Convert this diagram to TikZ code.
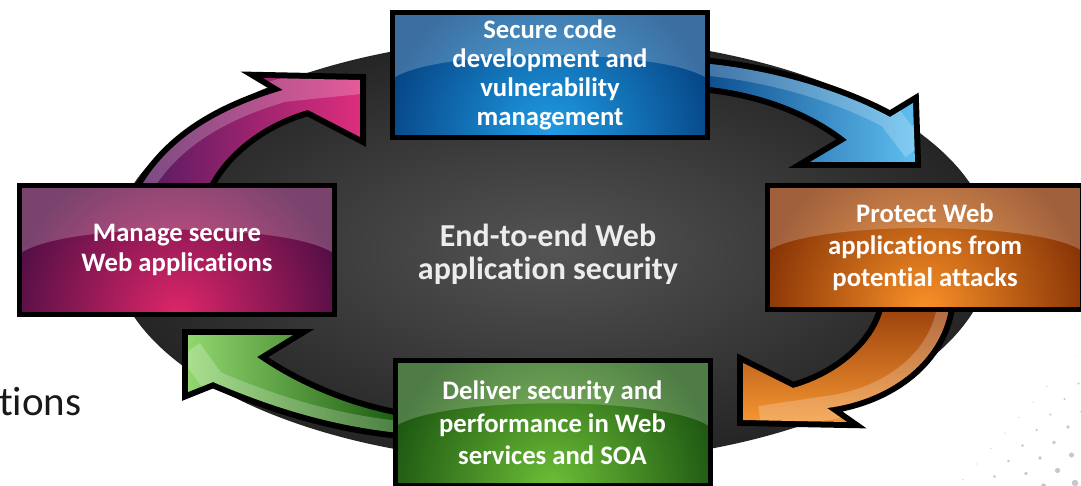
\documentclass[tikz,border=0pt]{standalone}
\usepackage{fontspec}
\setmainfont{Carlito}[Ligatures=NoCommon]
\usetikzlibrary{calc}
\definecolor{ellcA}{RGB}{84,84,84}
\definecolor{ellcB}{RGB}{50,50,50}
\definecolor{ellcC}{RGB}{26,26,26}
\definecolor{ellcD}{RGB}{8,8,8}
\pgfdeclareradialshading{ellglow}{\pgfpointorigin}{color(0bp)=(ellcA); color(18bp)=(ellcB); color(31bp)=(ellcC); color(41bp)=(ellcD); color(46bp)=(black); color(50bp)=(black)}
\definecolor{blueglow}{RGB}{32,158,230}
\definecolor{blueedge}{RGB}{6,70,135}
\definecolor{magglow}{RGB}{222,38,105}
\definecolor{magedge}{RGB}{85,15,70}
\definecolor{orgglow}{RGB}{250,145,40}
\definecolor{orgedge}{RGB}{135,52,6}
\definecolor{grnglow}{RGB}{108,190,55}
\definecolor{grnedge}{RGB}{30,88,18}
\definecolor{pinkA}{RGB}{80,25,95}
\definecolor{pinkB}{RGB}{222,45,125}
\definecolor{blueA}{RGB}{10,75,140}
\definecolor{blueB}{RGB}{95,190,240}
\definecolor{orgA}{RGB}{150,60,10}
\definecolor{orgB}{RGB}{245,150,50}
\definecolor{grnA}{RGB}{25,90,15}
\definecolor{grnM}{RGB}{70,150,45}
\definecolor{grnB}{RGB}{145,215,110}
\definecolor{hubtext}{RGB}{236,236,236}
\definecolor{dotgray}{RGB}{200,200,200}
\newcommand{\pinkshape}{(132,200) -- (143,183) .. controls (170,140) and (215,110) .. (283,90) -- (263,78) -- (360,80) -- (360,137) -- (308,110) .. controls (265,122) and (228,150) .. (210,183) -- (201,200) -- cycle}
\newcommand{\blueshape}{(700,63) .. controls (780,70) and (850,95) .. (890,117) -- (913,103) -- (915,162) -- (810,162) -- (847,140) .. controls (820,118) and (770,92) .. (700,86) -- cycle}
\newcommand{\orgshape}{(950,300) .. controls (945,360) and (890,400) .. (827,408) -- (847,422) -- (743,420) -- (743,363) -- (793,388) .. controls (840,375) and (880,340) .. (885,300) -- cycle}
\newcommand{\grnshape}{(400,433) .. controls (320,425) and (255,400) .. (213,382) -- (188,392) -- (188,335) -- (293,335) -- (257,357) .. controls (290,380) and (340,405) .. (400,416) -- cycle}
\tikzset{
  cbox/.style n args={2}{rectangle, draw=black, line width=5pt, inner sep=0pt,
    minimum width=315pt, minimum height=125pt, text=white, align=center,
    font=\bfseries\fontsize{26.7}{30}\selectfont,
    path picture={
      \fill[#2] (path picture bounding box.south west) rectangle (path picture bounding box.north east);
      \shade[inner color=#1, outer color=#2] (path picture bounding box.south) circle (165pt);
      \fill[white, fill opacity=0.22]
        (path picture bounding box.north west) -- (path picture bounding box.north east)
        -- ($(path picture bounding box.north east)!0.53!(path picture bounding box.south east)$)
        .. controls ($(path picture bounding box.north east)!0.28!(path picture bounding box.south)$)
        and ($(path picture bounding box.north west)!0.28!(path picture bounding box.south)$)
        .. ($(path picture bounding box.north west)!0.53!(path picture bounding box.south west)$) -- cycle;
    }},
  arrowline/.style={draw=black, line width=12pt, line join=miter, miter limit=4},
  shine/.style={draw=white, draw opacity=0.22, line width=24pt},
}
\begin{document}
\begin{tikzpicture}[x=1pt,y=-1pt]
\useasboundingbox (0,0) rectangle (1081,486);
\fill[white] (0,0) rectangle (1081,486);
\clip (0,0) rectangle (1081,486);

% dark oval
\shade[shading=ellglow] (552,250) ellipse [x radius=440pt, y radius=213pt];

% dotted decoration bottom right
\foreach \i in {-5,...,7} {
  \foreach \j in {-3,...,5} {
    \pgfmathsetmacro\dx{1033-14*\i+17.5*\j}
    \pgfmathsetmacro\dy{402+15.5*\i+12.5*\j}
    \pgfmathsetmacro\dr{(\dx+\dy-1410)*0.022}
    \ifdim\dr pt>0.35pt
      \fill[dotgray] (\dx,\dy) circle (\dr pt);
    \fi
  }
}

% arrow outlines
\path[arrowline] \pinkshape;
\path[arrowline] \blueshape;
\path[arrowline] \orgshape;
\path[arrowline] \grnshape;

% arrow fills
\shade[left color=pinkA, right color=pinkB] \pinkshape;
\shade[left color=blueA, right color=blueB] \blueshape;
\shade[top color=orgA, bottom color=orgB] \orgshape;
\shade[left color=grnB, middle color=grnM, right color=grnA] \grnshape;

\begin{scope}
  \clip \pinkshape;
  \path[shine] (143,183) .. controls (170,140) and (215,110) .. (283,90) -- (360,82);
\end{scope}
\begin{scope}
  \clip \blueshape;
  \path[shine] (700,63) .. controls (780,70) and (850,95) .. (890,117) -- (915,150);
\end{scope}
\begin{scope}
  \clip \orgshape;
  \path[shine] (950,300) .. controls (945,360) and (890,400) .. (827,408) -- (760,418);
\end{scope}
\begin{scope}
  \clip \grnshape;
  \path[shine] (400,433) .. controls (320,425) and (255,400) .. (213,382) -- (190,350);
\end{scope}

% boxes
\node[cbox={blueglow}{blueedge}, font=\bfseries\fontsize{26.7}{29}\selectfont] (secure) at (550,75)
  {Secure code\\development and\\vulnerability\\management};
\node[cbox={magglow}{magedge}, minimum height=129pt] (manage) at (177,250)
  {Manage secure\\Web applications};
\node[cbox={orgglow}{orgedge}, minimum height=124pt, font=\bfseries\fontsize{26.7}{32}\selectfont] (protect) at (925,247.5)
  {Protect Web\\applications from\\potential attacks};
\node[cbox={grnglow}{grnedge}, font=\bfseries\fontsize{26.7}{32.5}\selectfont] (deliver) at (552.5,423)
  {Deliver security and\\performance in Web\\services and SOA};

% hub text
\node[align=center, text=hubtext, font=\bfseries\fontsize{32}{33}\selectfont] (hub) at (548,254)
  {End-to-end Web\\application security};

% cut-off text at left
\node[anchor=base west, inner sep=0pt, font=\fontsize{41}{44}\selectfont, text=black!90] (tions) at (-1,415) {tions};
\end{tikzpicture}
\end{document}
